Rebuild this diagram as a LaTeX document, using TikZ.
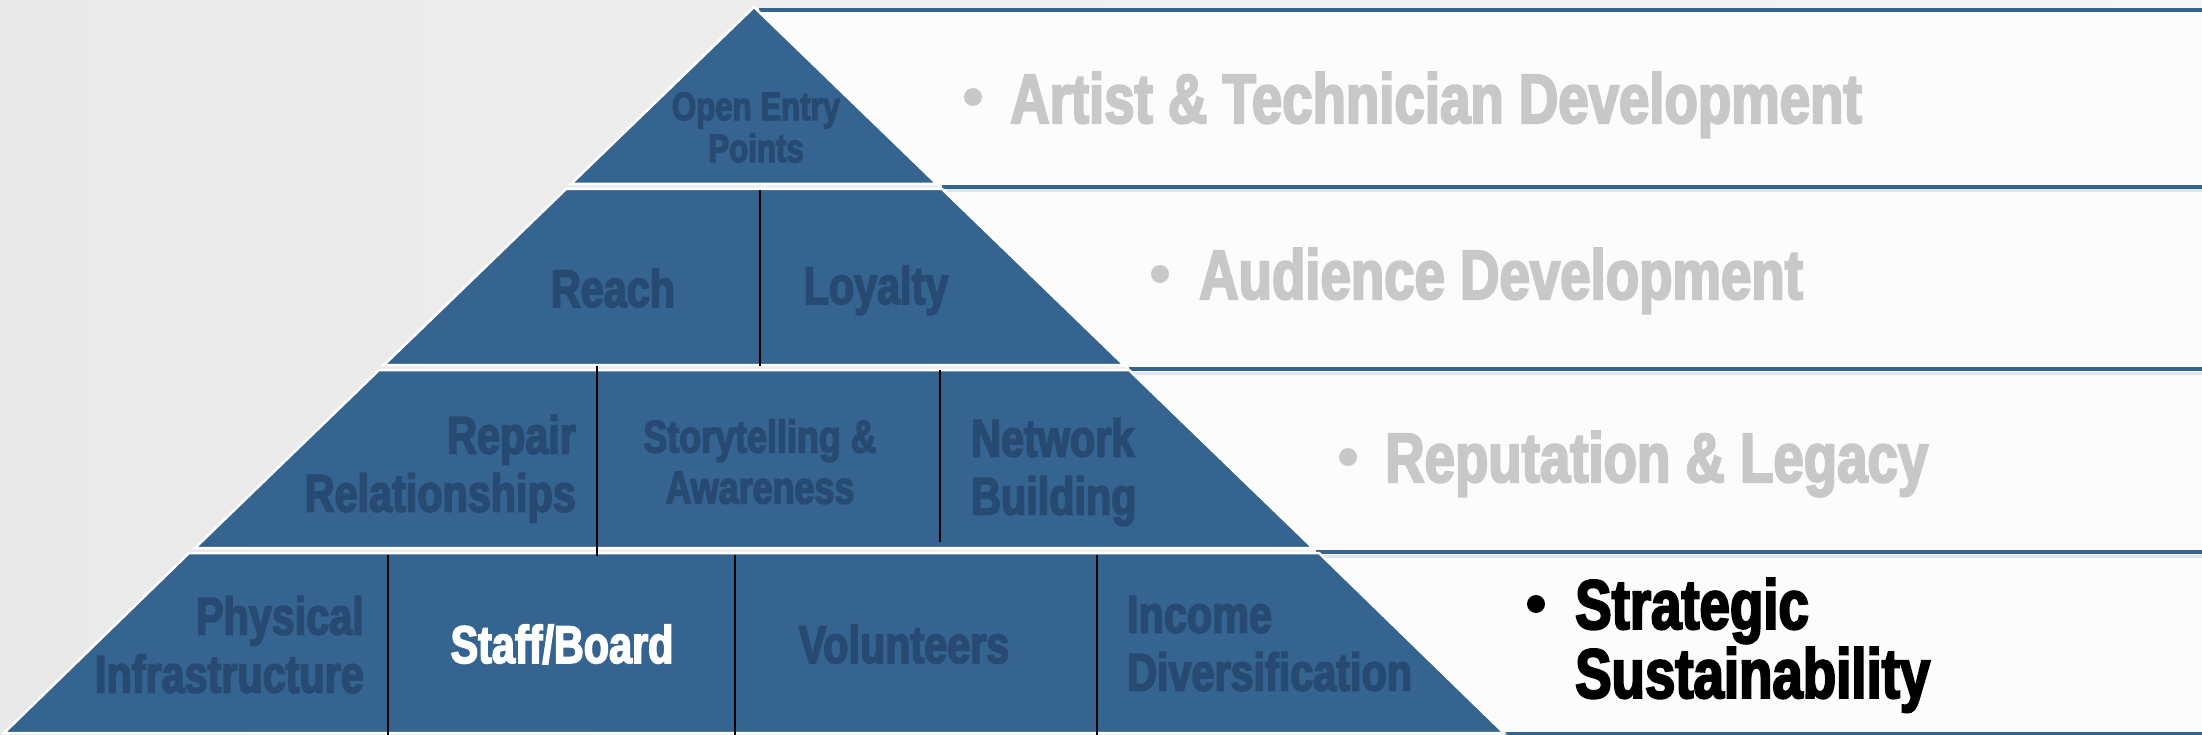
\documentclass[tikz,border=0pt]{standalone}
\usepackage{fontspec}
\newfontfamily\imp{Liberation Sans}[FakeStretch=0.78, BoldFeatures={FakeBold=3}]
\definecolor{pyrblue}{RGB}{52,100,143}
\definecolor{txtblue}{RGB}{39,74,114}
\definecolor{greytxt}{RGB}{200,200,200}
\definecolor{bgL}{RGB}{233,233,233}
\definecolor{bgR}{RGB}{246,246,246}
\definecolor{band}{RGB}{252,252,252}
\definecolor{shadowline}{RGB}{222,230,238}
\tikzset{
  tier/.style={fill=pyrblue, draw=white, line width=2.5pt, line join=miter},
  divider/.style={draw=black, line width=1.6pt},
  rulebar/.style={draw=pyrblue, line width=4.5pt},
  ruleshadow/.style={draw=shadowline, line width=3pt},
  ttxt/.style={inner sep=0pt, text=txtblue, font=\imp\bfseries\fontsize{53}{58}\selectfont},
  rtxt/.style={inner sep=0pt, text=greytxt, font=\imp\bfseries\fontsize{70}{69}\selectfont},
  bul/.style={circle, fill=greytxt, inner sep=0pt, minimum size=18pt},
}
\begin{document}
\begin{tikzpicture}[x=1pt,y=-1pt]
\useasboundingbox (0,0) rectangle (2202,735);
% background
\shade[left color=bgL, right color=bgR] (0,0) rectangle (2202,735);
\fill[band] (754,8) -- (2202,8) -- (2202,735) -- (1506,735) -- cycle;
% right rules
\draw[ruleshadow] (946,191) -- (2202,191);
\draw[ruleshadow] (1133,373) -- (2202,373);
\draw[ruleshadow] (1320,556) -- (2202,556);
\draw[rulebar] (759,10) -- (2202,10);
\draw[rulebar] (942,187) -- (2202,187);
\draw[rulebar] (1129,369) -- (2202,369);
\draw[rulebar] (1316,552) -- (2202,552);
\draw[rulebar] (1505,734) -- (2202,734);
% pyramid tiers
\path[tier] (754,7) -- (937,184) -- (571,184) -- cycle;
\path[tier] (566,189) -- (942,189) -- (1124,365) -- (384,365) -- cycle;
\path[tier] (379,370) -- (1129,370) -- (1313,548) -- (195,548) -- cycle;
\path[tier] (189,553) -- (1319,553) -- (1504,733) -- (4,733) -- cycle;
% dividers
\draw[divider] (760,190) -- (760,366);
\draw[divider] (597,366) -- (597,556);
\draw[divider] (940,370) -- (940,542);
\draw[divider] (388,555) -- (388,735);
\draw[divider] (735,555) -- (735,735);
\draw[divider] (1097,555) -- (1097,735);
% tier labels
\node[ttxt, font=\imp\bfseries\fontsize{40}{42}\selectfont, align=center, anchor=north] (oep) at (756,92) {Open Entry\\Points};
\node[ttxt, anchor=base] (reach) at (613,307) {Reach};
\node[ttxt, anchor=base] (loyal) at (876,304) {Loyalty};
\node[ttxt, align=right, anchor=north east] (repair) at (576,415) {Repair\\Relationships};
\node[ttxt, font=\imp\bfseries\fontsize{46}{51}\selectfont, align=center, anchor=north] (story) at (760,419) {Storytelling \&\\Awareness};
\node[ttxt, align=left, anchor=north west] (network) at (971,418) {Network\\Building};
\node[ttxt, align=right, anchor=north east] (phys) at (364,596) {Physical\\Infrastructure};
\node[ttxt, text=white, anchor=base] (staff) at (562,663) {Staff/Board};
\node[ttxt, anchor=base] (vol) at (904,663) {Volunteers};
\node[ttxt, align=left, anchor=north west] (income) at (1127,596) {Income\\Diversification};
% right labels
\node[bul] (b1) at (973,97) {};
\node[rtxt, anchor=base west] (artist) at (1010,123) {Artist \& Technician Development};
\node[bul] (b2) at (1160,274) {};
\node[rtxt, anchor=base west] (aud) at (1199,299) {Audience Development};
\node[bul] (b3) at (1348,457) {};
\node[rtxt, anchor=base west] (rep) at (1385,482) {Reputation \& Legacy};
\node[bul, fill=black] (b4) at (1536,604) {};
\node[rtxt, text=black, align=left, anchor=north west] (strat) at (1575,578) {Strategic\\Sustainability};
\end{tikzpicture}
\end{document}
